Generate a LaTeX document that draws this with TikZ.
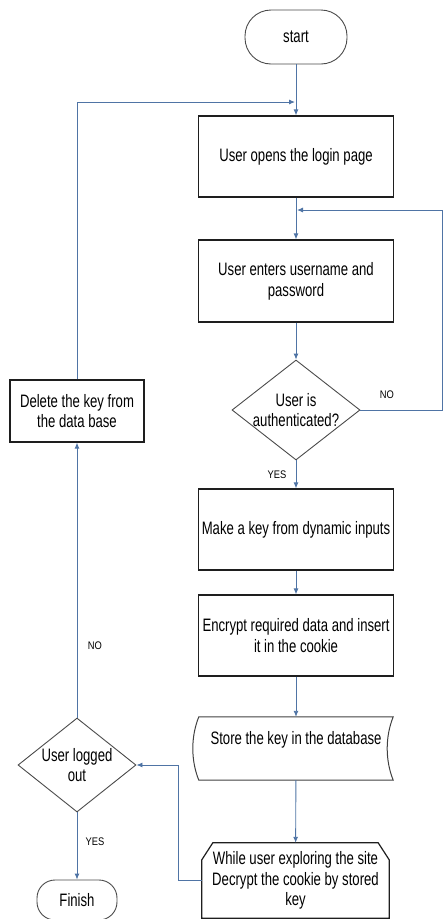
\documentclass[tikz,border=0pt]{standalone}
\usepackage{fontspec}
\setmainfont{Liberation Sans}[FakeStretch=0.73]
\newfontfamily\lblfont{Liberation Sans}[FakeStretch=0.85]
\usetikzlibrary{shapes.geometric,arrows.meta}
\definecolor{flow}{RGB}{79,116,165}
\definecolor{edge}{RGB}{30,30,30}
\begin{document}
\begin{tikzpicture}[x=1pt,y=-1pt,
  every node/.style={font=\fontsize{18}{20.7}\selectfont, align=center, inner sep=0pt},
  procbox/.style={draw=edge, line width=1.2pt, minimum width=195pt, minimum height=81pt},
  termbox/.style={draw=edge!80, line width=0.9pt},
  decision/.style={diamond, draw=edge!80, line width=0.9pt},
  flowline/.style={draw=flow, line width=0.9pt},
  arr/.style={flowline, -{Latex[length=6pt,width=5pt]}},
  lbl/.style={font=\lblfont\fontsize{11}{13}\selectfont}
]
\useasboundingbox (0,0) rectangle (445,919);

\node[termbox, minimum width=102pt, minimum height=54pt, rounded corners=26pt] (start) at (296,37) {start};
\node[procbox] (open) at (296,156.5) {User opens the login page};
\node[procbox, minimum height=82pt] (enter) at (296,281) {User enters username and\\password};
\node[decision, minimum width=128pt, minimum height=100pt] (auth) at (296,410) {\makebox[0pt]{User is}\\\makebox[0pt]{authenticated?}};
\node[procbox] (key) at (296,529.5) {Make a key from dynamic inputs};
\node[procbox] (enc) at (296,635.5) {Encrypt required data and insert\\it in the cookie};
\node[minimum width=194pt, minimum height=63pt] (store) at (296,748.5) {Store the key in the database\\\mbox{}};
\node[minimum width=187pt, minimum height=75pt] (loop) at (295.5,880.5) {While user exploring the site\\Decrypt the cookie by stored\\key};
\node[procbox, minimum width=134pt, minimum height=62pt] (del) at (77,411) {Delete the key from\\the data base};
\node[decision, minimum width=118pt, minimum height=94pt] (out) at (77,765) {\makebox[0pt]{User logged}\\\makebox[0pt]{out}};
\node[termbox, minimum width=80pt, minimum height=40pt, rounded corners=18pt] (fin) at (77,900) {Finish};

% special shapes
\draw[draw=edge!85, line width=1pt] (store.north west) -- (store.north east)
  .. controls +(-8,20) and +(-8,-20) .. (store.south east) -- (store.south west)
  .. controls +(-8,-20) and +(-8,20) .. (store.north west) -- cycle;
\draw[draw=edge, line width=1.2pt] ([xshift=11pt]loop.north west) -- ([xshift=-11pt]loop.north east)
  -- ([yshift=-17pt]loop.north east) -- (loop.south east) -- (loop.south west)
  -- ([yshift=-17pt]loop.north west) -- cycle;

% connectors
\coordinate (topjoin) at (296,102);
\coordinate (nojoin) at (296,210);
\coordinate (noturn) at (442,410);
\coordinate (loopturn) at (178,880.5);

\draw[arr] (start) -- (open);
\draw[arr] (open) -- (enter);
\draw[arr] (enter) -- (auth);
\draw[arr] (auth) -- (key);
\draw[arr] (key) -- (enc);
\draw[arr] (enc) -- (store);
\draw[arr] (store) -- (loop);
\draw[arr, shorten >=1pt] (auth.east) -- (noturn) |- (nojoin);
\draw[arr, shorten >=1pt] (del.north) |- (topjoin);
\draw[arr] (out.north) -- (del.south);
\draw[arr] (out.south) -- (fin.north);
\draw[arr] (loop.west) -- (loopturn) |- (out.east);

% labels
\node[lbl] (noA) at (387,395) {NO};
\node[lbl] (yesA) at (277,475) {YES};
\node[lbl] (noB) at (95,646) {NO};
\node[lbl] (yesB) at (95,842) {YES};
\end{tikzpicture}
\end{document}
